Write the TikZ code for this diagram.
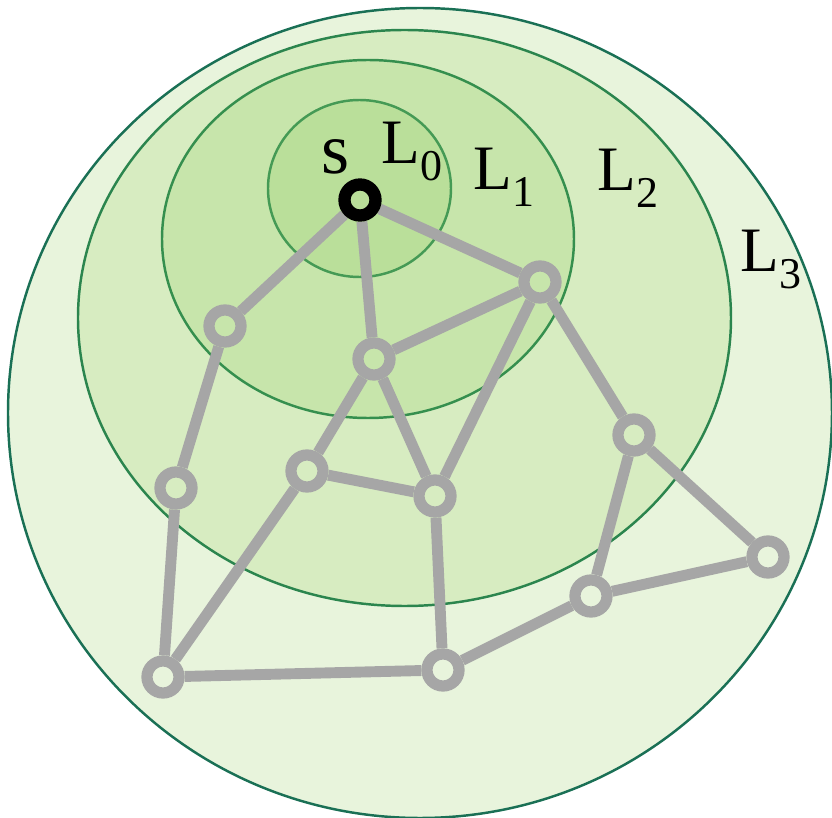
\documentclass[tikz,border=0pt]{standalone}
\usepackage{fontspec}
\setmainfont{Liberation Serif}
\usetikzlibrary{backgrounds}
\definecolor{fillthree}{HTML}{E8F4DC}
\definecolor{filltwo}{HTML}{D7ECC1}
\definecolor{fillone}{HTML}{C7E5AB}
\definecolor{fillzero}{HTML}{BADF9A}
\definecolor{rimthree}{HTML}{1A7055}
\definecolor{rimtwo}{HTML}{2B854E}
\definecolor{rimone}{HTML}{358F4E}
\definecolor{rimzero}{HTML}{459A55}
\definecolor{edgegray}{HTML}{A6A6A6}
\newcommand{\levelsub}[1]{\raisebox{-0.26em}{\fontsize{12.5}{12.5}\selectfont #1}}

\begin{document}
\begin{tikzpicture}[x=0.01cm, y=-0.01cm, font=\fontsize{18}{20}\selectfont,
    vertex/.style={circle, draw=edgegray, line width=3.2pt, minimum size=0.32cm, inner sep=0pt},
    source/.style={circle, draw=black, line width=3.5pt, minimum size=0.31cm, inner sep=0pt},
    link/.style={draw=edgegray, line width=3.1pt},
    level/.style={anchor=base west, inner sep=0pt}]

    % 1. Fix the frame of the picture
    \useasboundingbox (0,0) rectangle (832,818);

    % 2. Place the source and the other vertices
    \node[source] (s) at (360,200) {};
    \node[vertex] (a) at (225,326) {};
    \node[vertex] (b) at (374,359) {};
    \node[vertex] (c) at (540,282) {};
    \node[vertex] (d) at (176,488) {};
    \node[vertex] (e) at (307,471) {};
    \node[vertex] (f) at (435,496) {};
    \node[vertex] (g) at (634,435) {};
    \node[vertex] (h) at (768,557) {};
    \node[vertex] (i) at (591,596) {};
    \node[vertex] (j) at (163,677) {};
    \node[vertex] (k) at (443,670) {};

    \begin{scope}[on background layer]
        % 3. The nested levels, outermost first
        \draw[rimthree, fill=fillthree, line width=0.7pt] (420,413) ellipse (412 and 405);
        \draw[rimtwo, fill=filltwo, line width=0.7pt] (404.5,318) ellipse (326.5 and 288);
        \draw[rimone, fill=fillone, line width=0.7pt] (368,239) ellipse (206 and 179);
        \draw[rimzero, fill=fillzero, line width=0.7pt] (359.5,188.5) ellipse (91.5 and 88.5);

        % 4. The edges of the graph
        \draw[link] (s) -- (a);
        \draw[link] (s) -- (b);
        \draw[link] (s) -- (c);
        \draw[link] (a) -- (d);
        \draw[link] (b) -- (c);
        \draw[link] (b) -- (e);
        \draw[link] (b) -- (f);
        \draw[link] (c) -- (f);
        \draw[link] (c) -- (g);
        \draw[link] (d) -- (j);
        \draw[link] (e) -- (f);
        \draw[link] (e) -- (j);
        \draw[link] (j) -- (k);
        \draw[link] (k) -- (f);
        \draw[link] (k) -- (i);
        \draw[link] (i) -- (g);
        \draw[link] (i) -- (h);
        \draw[link] (g) -- (h);
    \end{scope}

    % 5. Labels of the source and the levels
    \node[level, font=\fontsize{20.5}{22}\selectfont] (slabel) at (321,173) {s};
    \node[level] (lzero) at (381,164) {L\levelsub{0}};
    \node[level] (lone) at (473,190) {L\levelsub{1}};
    \node[level] (ltwo) at (597,191) {L\levelsub{2}};
    \node[level] (lthree) at (740,272) {L\levelsub{3}};

\end{tikzpicture}
\end{document}
